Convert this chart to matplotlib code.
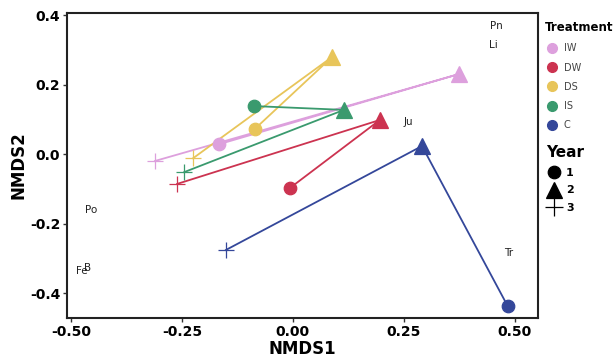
import matplotlib.pyplot as plt
from matplotlib.lines import Line2D

# site scores per treatment, years 1, 2, 3
treatments = ["IW", "DW", "DS", "IS", "C"]
colors = ["#DDA0DD", "#CC3350", "#E8C55A", "#3A9A6E", "#34479A"]
nmds1 = {
    "IW": [-0.167, 0.374, -0.311],
    "DW": [-0.007, 0.196, -0.261],
    "DS": [-0.086, 0.088, -0.225],
    "IS": [-0.088, 0.115, -0.245],
    "C": [0.484, 0.291, -0.151],
}
nmds2 = {
    "IW": [0.028, 0.230, -0.020],
    "DW": [-0.098, 0.098, -0.086],
    "DS": [0.072, 0.279, -0.012],
    "IS": [0.138, 0.127, -0.052],
    "C": [-0.437, 0.023, -0.276],
}
years = ["1", "2", "3"]

species = ["Pn", "Li", "Ju", "Tr", "Po", "B", "Fe"]
sp_x = [0.459, 0.453, 0.261, 0.486, -0.455, -0.464, -0.475]
sp_y = [0.368, 0.314, 0.092, -0.285, -0.161, -0.328, -0.337]

markers = ["o", "^", "+"]
msizes = [9, 12, 12]

fig = plt.figure(figsize=(6.16, 3.59), dpi=100)
ax = fig.add_axes([0.109, 0.114, 0.764, 0.850])

for t, c in zip(treatments, colors):
    ax.plot(nmds1[t], nmds2[t], color=c, lw=1.3, zorder=2)
    for i in range(3):
        ax.plot(nmds1[t][i], nmds2[t][i], marker=markers[i], color=c,
                ms=msizes[i], mew=0.9, ls="none", zorder=3)

for s, x, y in zip(species, sp_x, sp_y):
    ax.text(x, y, s, fontsize=7.5, color="#222222", ha="center", va="center")

ax.set_xlim(-0.509, 0.552)
ax.set_ylim(-0.472, 0.406)
ax.set_xticks([-0.5, -0.25, 0, 0.25, 0.5])
ax.set_xticklabels(["-0.50", "-0.25", "0.00", "0.25", "0.50"])
ax.set_yticks([-0.4, -0.2, 0, 0.2, 0.4])
ax.set_yticklabels(["-0.4", "-0.2", "0.0", "0.2", "0.4"])
for lab in ax.get_xticklabels() + ax.get_yticklabels():
    lab.set_fontweight("bold")
    lab.set_fontsize(10)
ax.tick_params(length=3, width=1, color="#333333", pad=2)
for sp in ax.spines.values():
    sp.set_linewidth(1.5)
    sp.set_color("#222222")
ax.set_xlabel("NMDS1", fontsize=12, fontweight="bold", labelpad=1)
ax.set_ylabel("NMDS2", fontsize=12, fontweight="bold", labelpad=2)

h1 = [Line2D([], [], marker="o", color=c, ls="none", ms=7) for c in colors]
leg1 = fig.legend(h1, treatments, title="Treatment", loc="upper left",
                  bbox_to_anchor=(0.874, 0.96), frameon=False, fontsize=7,
                  handletextpad=0.4, labelspacing=0.95, handlelength=1.5,
                  borderaxespad=0.3)
leg1.get_title().set_fontweight("bold")
leg1.get_title().set_fontsize(8.5)
leg1._legend_box.align = "left"
for txt in leg1.get_texts():
    txt.set_color("#444444")

h2 = [Line2D([], [], marker=m, color="black", ls="none", ms=s, mew=0.9)
      for m, s in zip(markers, [9, 11, 13])]
leg2 = fig.legend(h2, years, title="Year", loc="upper left",
                  bbox_to_anchor=(0.874, 0.618), frameon=False,
                  prop={"size": 8, "weight": "bold"},
                  handletextpad=0.3, labelspacing=0.7, handlelength=1.5,
                  borderaxespad=0.3)
leg2.get_title().set_fontweight("bold")
leg2.get_title().set_fontsize(11)
leg2._legend_box.align = "left"

fig.savefig("out.png", dpi=100)
